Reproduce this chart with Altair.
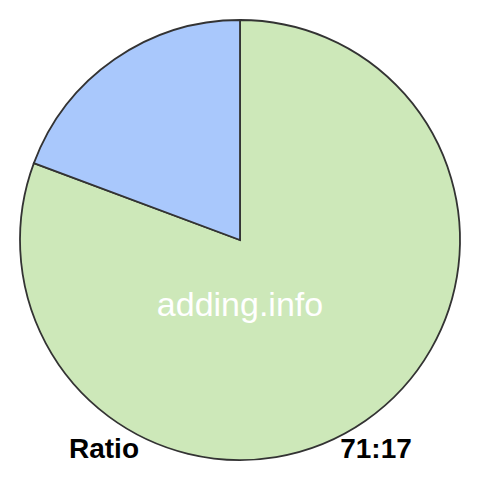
import altair as alt
import pandas as pd

categories = ["A", "B"]
values = [71, 17]
colors = ["#cde8b9", "#a9c8fc"]
order_idx = [0, 1]

label_texts = ["adding.info", "Ratio", "71:17"]

df = pd.DataFrame({"cat": categories, "value": values, "ord": order_idx})

pie = alt.Chart(df).mark_arc(
    outerRadius=220, stroke="#333333", strokeWidth=1.8
).encode(
    theta=alt.Theta("value:Q", stack=True),
    color=alt.Color("cat:N", scale=alt.Scale(domain=categories, range=colors), legend=None),
    order=alt.Order("ord:Q"),
)

wm = alt.Chart(pd.DataFrame({"t": [label_texts[0]]})).mark_text(
    font="Liberation Sans", fontSize=34, color="white", align="center", baseline="alphabetic"
).encode(text="t:N", x=alt.value(232), y=alt.value(308))

ratio = alt.Chart(pd.DataFrame({"t": [label_texts[1]]})).mark_text(
    font="Liberation Sans", fontSize=28, fontWeight="bold", color="black", align="center", baseline="alphabetic"
).encode(text="t:N", x=alt.value(96), y=alt.value(450))

val = alt.Chart(pd.DataFrame({"t": [label_texts[2]]})).mark_text(
    font="Liberation Sans", fontSize=28, fontWeight="bold", color="black", align="center", baseline="alphabetic"
).encode(text="t:N", x=alt.value(368), y=alt.value(450))

chart = alt.layer(pie, wm, ratio, val).properties(
    width=464, height=464, autosize=alt.AutoSizeParams(type="none"), padding=0
).configure_view(stroke=None)

chart.save("out.html", embed_options={"renderer": "svg", "actions": False})
